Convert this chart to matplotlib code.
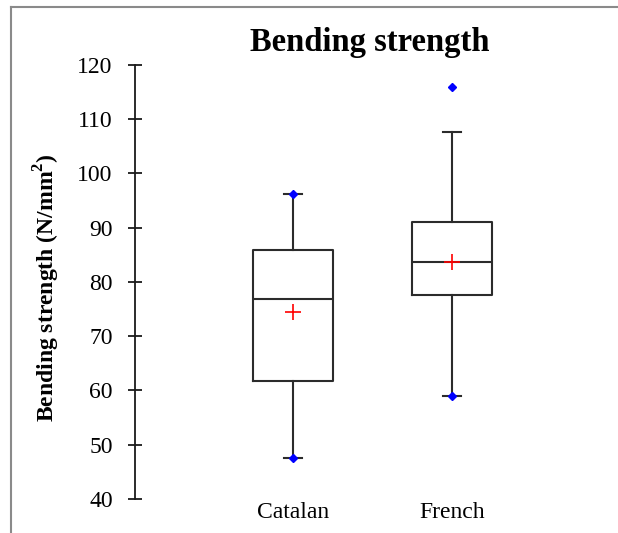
import matplotlib.pyplot as plt
from matplotlib.lines import Line2D

plt.rcParams['font.family'] = ['Liberation Serif', 'DejaVu Serif']
plt.rcParams['mathtext.fontset'] = 'custom'
plt.rcParams['mathtext.rm'] = 'Liberation Serif'
plt.rcParams['mathtext.bf'] = 'Liberation Serif:bold'

# Box plot summary values
groups = ['Catalan', 'French']
q1 = [61.7, 77.6]
medians = [76.9, 83.7]
q3 = [85.9, 91.1]
whisk_lo = [47.6, 59.0]
whisk_hi = [96.2, 107.6]
means = [74.5, 83.6]
outliers = [[], [115.9]]
sample_min = [47.6, 59.0]
sample_max = [96.2, 115.9]

yticks = [40, 50, 60, 70, 80, 90, 100, 110, 120]

fig = plt.figure(figsize=(6.18, 5.33), dpi=100)
ax = fig.add_axes([135 / 618, 34 / 533, 430 / 618, 434 / 533])

stats = []
for i, name in enumerate(groups):
    stats.append({'label': name, 'q1': q1[i], 'med': medians[i], 'q3': q3[i],
                  'whislo': whisk_lo[i], 'whishi': whisk_hi[i],
                  'mean': means[i], 'fliers': outliers[i]})

positions = [1, 2]
line_kw = dict(color='#2b2b2b', linewidth=1.5)
ax.bxp(stats, positions=positions, widths=0.5, showmeans=True, showfliers=False,
       boxprops=line_kw, medianprops=line_kw, whiskerprops=line_kw,
       capprops=line_kw, capwidths=0.11,
       meanprops=dict(marker='+', markeredgecolor='red', markersize=11,
                      markeredgewidth=1.2, linestyle='none'))

# min / max points and outliers
for i, p in enumerate(positions):
    ax.plot([p, p], [sample_min[i], sample_max[i]], linestyle='none', marker='D',
            markersize=4, color='blue', zorder=4)

ax.set_xlim(0.006, 2.71)
ax.set_ylim(40, 120)
ax.set_yticks(yticks)
ax.set_xticks(positions)
ax.set_xticklabels(groups)

for s in ['top', 'right', 'bottom']:
    ax.spines[s].set_visible(False)
ax.spines['left'].set_linewidth(1.3)
ax.spines['left'].set_color('#1a1a1a')
ax.tick_params(axis='y', direction='inout', length=10, width=1.3, pad=11,
               labelsize=17, color='#1a1a1a')
ax.tick_params(axis='x', length=0, pad=2, labelsize=17)

fig.text(370 / 618, 1 - 42 / 533, 'Bending strength', ha='center', va='center',
         fontsize=23.5, fontweight='bold')
fig.text(47 / 618, 1 - 288 / 533, r'Bending strength (N/mm$^\mathbf{2}$)',
         ha='center', va='center', rotation=90, fontsize=17, fontweight='bold')

# frame lines of the original screenshot
fig.add_artist(Line2D([11 / 618, 1], [1 - 7 / 533, 1 - 7 / 533], color='#8a8a8a',
                      linewidth=1.5, transform=fig.transFigure))
fig.add_artist(Line2D([11 / 618, 11 / 618], [0, 1 - 7 / 533], color='#8a8a8a',
                      linewidth=1.5, transform=fig.transFigure))

fig.savefig('out.png', dpi=100)
